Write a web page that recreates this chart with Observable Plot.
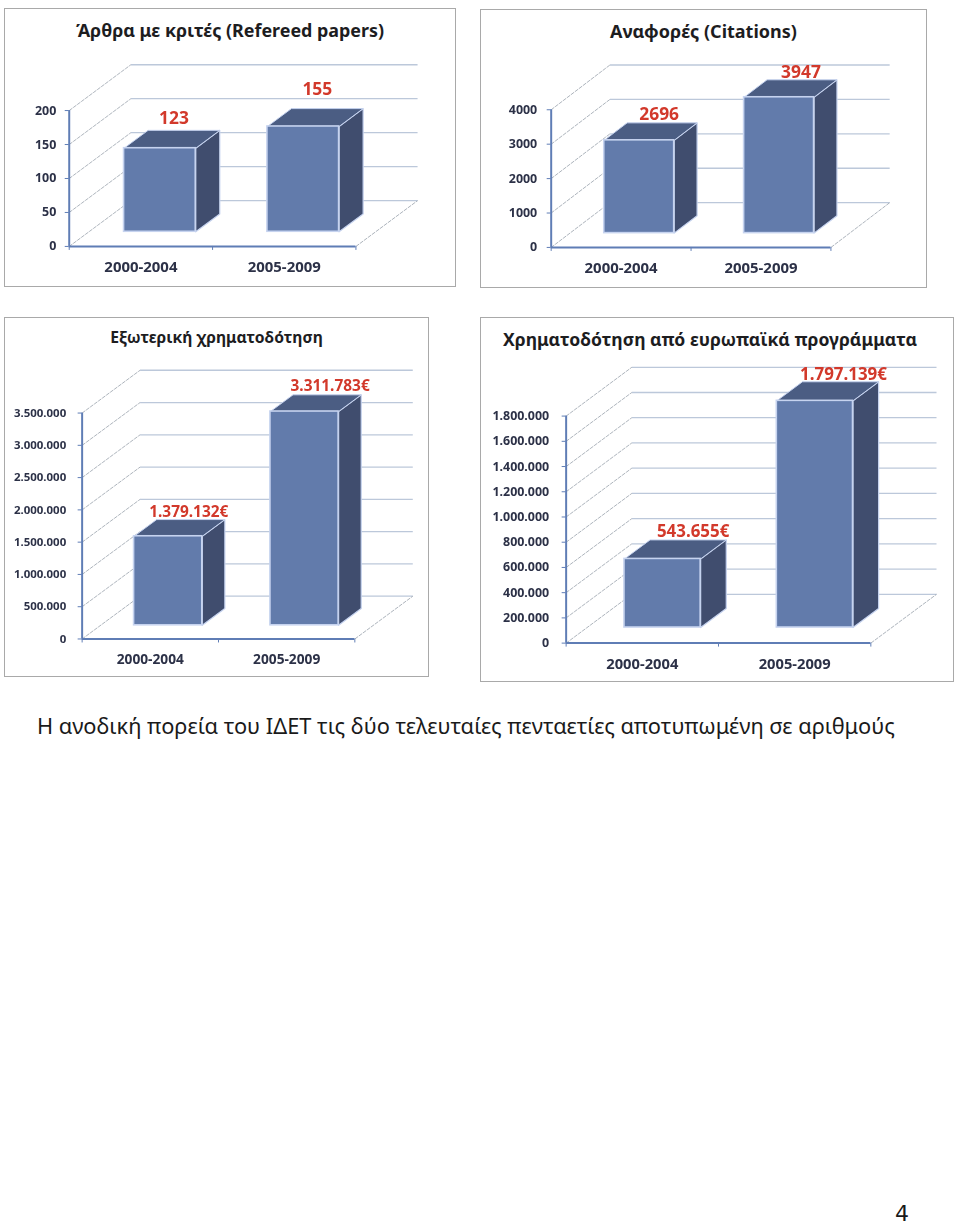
<!DOCTYPE html>
<html lang="el">
<head>
<meta charset="utf-8">
<script src="https://cdn.jsdelivr.net/npm/d3@7"></script>
<script src="https://cdn.jsdelivr.net/npm/@observablehq/plot@0.6"></script>
<style>
  html, body { margin: 0; padding: 0; background: #fff; }
  #page { position: relative; width: 960px; height: 1226px; overflow: hidden; font-family: "Noto Sans", sans-serif; }
  .panel { position: absolute; box-sizing: border-box; border: 1.5px solid #a9a9a9; background: #fff; }
  .panel svg { position: absolute; left: -1.5px; top: 1px; overflow: visible; background: transparent; filter: blur(0.3px); }
  .panel-title { position: absolute; left: 0; right: 0; text-align: center; font-weight: 700; color: #1d1d1f; white-space: nowrap; z-index: 1; }
  #caption { position: absolute; left: 37px; top: 712px; line-height: 28px; font-family: "Noto Sans", sans-serif; font-size: 21.8px; color: #1a1a1a; white-space: nowrap; }
  #pageno { position: absolute; left: 895px; top: 1204px; line-height: 20px; height: 20px; font-family: "DejaVu Sans", sans-serif; font-size: 22px; color: #1a1a1a; }
</style>
</head>
<body>
<div id="page">
  <div id="caption">Η ανοδική πορεία του ΙΔΕΤ τις δύο τελευταίες πενταετίες αποτυπωμένη σε αριθμούς</div>
  <div id="pageno">4</div>
</div>
<script>
// ---- data ----
const categories = ["2000-2004", "2005-2009"];

const refereedTitle = "Άρθρα με κριτές (Refereed papers)";
const refereedValues = [123, 155];
const refereedTicks = [0, 50, 100, 150, 200];

const citationsTitle = "Αναφορές (Citations)";
const citationsValues = [2696, 3947];
const citationsTicks = [0, 1000, 2000, 3000, 4000];

const externalTitle = "Εξωτερική χρηματοδότηση";
const externalValues = [1379132, 3311783];
const externalTicks = [0, 500000, 1000000, 1500000, 2000000, 2500000, 3000000, 3500000];

const europeanTitle = "Χρηματοδότηση από ευρωπαϊκά προγράμματα";
const europeanValues = [543655, 1797139];
const europeanTicks = [0, 200000, 400000, 600000, 800000, 1000000, 1200000, 1400000, 1600000, 1800000];

// ---- formats ----
const dotted = d3.formatLocale({decimal: ",", thousands: ".", grouping: [3], currency: ["", "€"]}).format(",");
const plain = d3.format("d");

// ---- layout of the four panels (page pixels) ----
const panels = [
  {title: refereedTitle, values: refereedValues, ticks: refereedTicks, fmt: plain, suffix: "",
   box: [4, 8, 452, 279], axisX: [69, 357], axisY: [245, 108.5],
   depthX: 0.43, depthY: 67.4, titleTop: 9, titleSize: 17.9, tickSize: 12.5, catSize: 15, valueSize: 17.5, pad: 9,
   nudge: [[-10, -12], [-10, -19]]},
  {title: citationsTitle, values: citationsValues, ticks: citationsTicks, fmt: plain, suffix: "",
   box: [480, 9, 447, 279], axisX: [551, 832], axisY: [246, 107.7],
   depthX: 0.42, depthY: 1300, titleTop: 8.5, titleSize: 18, tickSize: 12.5, catSize: 15, valueSize: 17.5, pad: 10,
   nudge: [[-3, -8], [-1, -7]]},
  {title: externalTitle, values: externalValues, ticks: externalTicks, fmt: dotted, suffix: "€",
   box: [4, 317, 425, 360], axisX: [82, 356], axisY: [638, 411],
   depthX: 0.425, depthY: 663000, titleTop: 8, titleSize: 15.7, tickSize: 11.5, catSize: 13.8, valueSize: 15.5, pad: 12,
   nudge: [[-2, -8], [3, -9]]},
  {title: europeanTitle, values: europeanValues, ticks: europeanTicks, fmt: dotted, suffix: "€",
   box: [480, 317, 474, 365], axisX: [566, 872], axisY: [642, 414],
   depthX: 0.431, depthY: 387000, titleTop: 9, titleSize: 17.6, tickSize: 12.5, catSize: 14.8, valueSize: 17, pad: 13, titleShift: -7,
   nudge: [[5, -8], [3, -7]]}
];

const barStart = 0.245, barEnd = 0.745;   // along a category
const depthStart = 0.32, depthEnd = 0.71; // along the floor

const ink = "#2c3147", axisBlue = "#5f7db5", gridBlue = "#bcc8da", wallGrey = "#98a0aa",
      frontFill = "#627bab", topFill = "#4b5d83", sideFill = "#404d6e", edge = "#c6d3ef", red = "#d2392b";

function drawPanel(p) {
  const [bx, by, bw, bh] = p.box;
  const max = p.ticks[p.ticks.length - 1];
  const kx = p.depthX, ky = p.depthY;

  // x/y of a point at a given category position, value and floor depth
  const X = (c, d) => c + d * kx;
  const Y = (v, d) => v + d * ky;

  const bars = p.values.map((v, i) => ({i, v, cat: categories[i]}));
  const faces = (kind) => bars.flatMap(({i, v}) => {
    const c0 = i + barStart, c1 = i + barEnd;
    const corners = kind === "top"
      ? [[c0, v, depthStart], [c1, v, depthStart], [c1, v, depthEnd], [c0, v, depthEnd], [c0, v, depthStart]]
      : [[c1, v, depthStart], [c1, v, depthEnd], [c1, 0, depthEnd], [c1, 0, depthStart], [c1, v, depthStart]];
    return corners.map(([c, val, d]) => ({id: i, x: X(c, d), y: Y(val, d)}));
  });

  const chart = Plot.plot({
    width: bw,
    height: bh,
    marginLeft: p.axisX[0] - bx,
    marginRight: bw - (p.axisX[1] - bx),
    marginTop: p.axisY[1] - by,
    marginBottom: bh - (p.axisY[0] - by),
    style: {background: "transparent", overflow: "visible"},
    x: {domain: [0, 2]},
    y: {domain: [0, max]},
    marks: [
      // back wall and floor
      Plot.link(p.ticks, {x1: () => kx, x2: () => 2 + kx, y1: d => Y(d, 1), y2: d => Y(d, 1), stroke: gridBlue, strokeWidth: 1.3}),
      // left wall
      Plot.link(p.ticks, {x1: () => 0, x2: () => kx, y1: d => d, y2: d => Y(d, 1), stroke: wallGrey, strokeWidth: 0.8, strokeDasharray: "4 1"}),
      // right edge of the floor
      Plot.link([0], {x1: () => 2, x2: () => 2 + kx, y1: () => 0, y2: () => ky, stroke: wallGrey, strokeWidth: 0.8, strokeDasharray: "4 1"}),
      // bars
      Plot.line(faces("side"), {x: "x", y: "y", z: "id", fill: sideFill, stroke: edge, strokeWidth: 1.2, curve: "linear"}),
      Plot.line(faces("top"), {x: "x", y: "y", z: "id", fill: topFill, stroke: edge, strokeWidth: 1, curve: "linear"}),
      Plot.rect(bars, {
        x1: d => X(d.i + barStart, depthStart), x2: d => X(d.i + barEnd, depthStart),
        y1: () => Y(0, depthStart), y2: d => Y(d.v, depthStart),
        fill: frontFill, stroke: edge, strokeWidth: 1.6
      }),
      // value labels
      Plot.text(bars, {
        x: d => X(d.i + (barStart + barEnd) / 2, depthEnd),
        y: d => Y(d.v, depthEnd),
        text: d => p.fmt(d.v) + p.suffix,
        fill: red, fontWeight: 700, fontSize: p.valueSize,
        render(index, scales, values, dims, ctx, next) {
          const g = next(index, scales, values, dims, ctx);
          d3.select(g).selectAll("text").attr("transform", function (_, j) {
            const base = d3.select(this).attr("transform") || "";
            const [nx, ny] = p.nudge[index[j]];
            return base + ` translate(${nx},${ny})`;
          });
          return g;
        }
      }),
      // axes
      Plot.axisY({ticks: p.ticks, tickSize: 4, tickPadding: p.pad, tickFormat: p.fmt, label: null,
        stroke: axisBlue, fill: ink, fontWeight: 700, fontSize: p.tickSize}),
      Plot.axisX({ticks: [0, 1, 2], tickSize: 4, tickFormat: () => "", label: null, stroke: axisBlue}),
      Plot.axisX({ticks: [0.5, 1.5], tickSize: 0, tickPadding: 15, label: null,
        tickFormat: d => categories[Math.floor(d)], fill: ink, fontWeight: 700, fontSize: p.catSize}),
      Plot.ruleX([0], {y1: 0, y2: max, stroke: axisBlue, strokeWidth: 2}),
      Plot.ruleY([0], {x1: 0, x2: 2, stroke: axisBlue, strokeWidth: 2})
    ]
  });
  chart.style.fontFamily = '"Noto Sans", sans-serif';

  const wrap = document.createElement("div");
  wrap.className = "panel";
  wrap.style.cssText = `left:${bx}px;top:${by}px;width:${bw}px;height:${bh}px`;
  const t = document.createElement("div");
  t.className = "panel-title";
  t.textContent = p.title;
  t.style.top = p.titleTop + "px";
  t.style.fontSize = p.titleSize + "px";
  if (p.titleShift) t.style.transform = `translateX(${p.titleShift}px)`;
  wrap.append(chart, t);
  document.getElementById("page").append(wrap);
}

panels.forEach(drawPanel);
</script>
</body>
</html>
